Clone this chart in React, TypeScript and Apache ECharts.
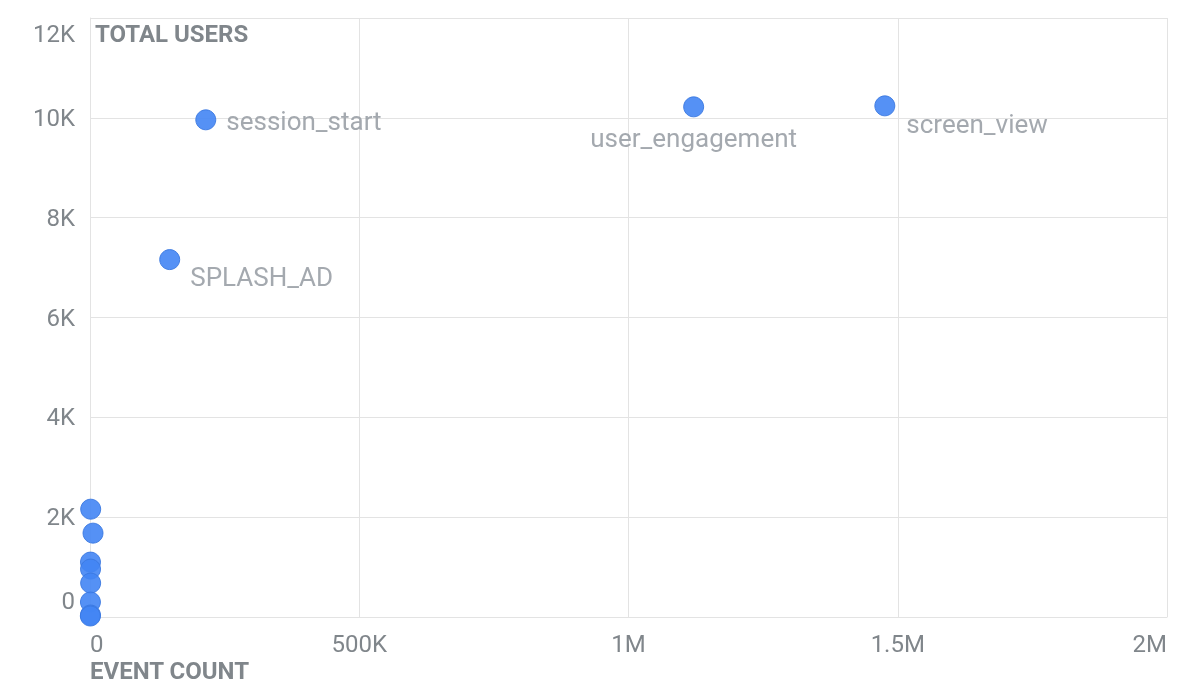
import React, { useEffect, useRef } from "react";
import * as echarts from "echarts";

const eventNames = [
  "screen_view",
  "user_engagement",
  "session_start",
  "SPLASH_AD",
  "",
  "",
  "",
  "",
  "",
  "",
  "",
  "",
];
const eventCounts = [1476000, 1121000, 215000, 148000, 1300, 5600, 900, 1000, 1200, 800, 900, 600];
const totalUsers = [10240, 10220, 9960, 7160, 2160, 1680, 1100, 960, 680, 300, 40, 20];

const xTicks = [0, 500000, 1000000, 1500000, 2000000];
const yTicks = [0, 2000, 4000, 6000, 8000, 10000, 12000];

const labelSpecs: Record<string, any> = {
  session_start: { position: "right", distance: 10, offset: [0, 1] },
  SPLASH_AD: { position: "right", distance: 10, offset: [0, 17] },
  user_engagement: { position: "bottom", distance: 8, offset: [0, 0] },
  screen_view: { position: "right", distance: 11, offset: [0, 18] },
};

function fmt(v: number): string {
  if (v === 0) return "0";
  if (v >= 1000000) return v / 1000000 + "M";
  if (v >= 1000) return v / 1000 + "K";
  return String(v);
}

export default function App() {
  const ref = useRef<HTMLDivElement>(null);
  useEffect(() => {
    if (!ref.current) return;
    const chart = echarts.init(ref.current, undefined, { renderer: "svg" });
    const grid = "#e3e3e3";
    const axisText = "#80868b";
    const data = eventCounts.map((x, i) => {
      const name = eventNames[i];
      const spec = labelSpecs[name];
      return {
        name,
        value: [x, totalUsers[i]],
        label: spec
          ? {
              show: true,
              formatter: name,
              position: spec.position,
              distance: spec.distance,
              offset: spec.offset,
              color: "#9aa0a6",
              fontSize: 26,
              fontFamily: "Roboto",
            }
          : { show: false },
      };
    });
    chart.setOption({
      animation: false,
      grid: { left: 90, right: 16, top: 18, bottom: 79, containLabel: false },
      xAxis: {
        type: "value",
        min: xTicks[0],
        max: xTicks[xTicks.length - 1],
        interval: xTicks[1] - xTicks[0],
        name: "EVENT COUNT",
        nameLocation: "start",
        nameGap: 0,
        nameTextStyle: {
          align: "left",
          verticalAlign: "top",
          padding: [42, 0, 0, 0],
          color: axisText,
          fontWeight: "bold",
          fontSize: 24,
          fontFamily: "Roboto",
        },
        axisLine: { show: true, lineStyle: { color: grid } },
        axisTick: { show: false },
        splitLine: { show: true, lineStyle: { color: grid } },
        axisLabel: {
          color: axisText,
          fontSize: 24,
          fontFamily: "Roboto",
          margin: 15,
          formatter: fmt,
          alignMinLabel: "left",
          alignMaxLabel: "right",
        },
      },
      yAxis: {
        type: "value",
        min: yTicks[0],
        max: yTicks[yTicks.length - 1],
        interval: yTicks[1] - yTicks[0],
        name: "TOTAL USERS",
        nameLocation: "end",
        nameGap: -16,
        nameTextStyle: {
          align: "left",
          verticalAlign: "middle",
          padding: [0, 0, 0, 5],
          color: axisText,
          fontWeight: "bold",
          fontSize: 24,
          fontFamily: "Roboto",
        },
        axisLine: { show: true, lineStyle: { color: grid } },
        axisTick: { show: false },
        splitLine: { show: true, lineStyle: { color: grid } },
        axisLabel: {
          color: axisText,
          fontSize: 24,
          lineHeight: 32,
          fontFamily: "Roboto",
          margin: 15,
          formatter: fmt,
          verticalAlignMinLabel: "bottom",
          verticalAlignMaxLabel: "top",
        },
      },
      series: [
        {
          type: "scatter",
          symbolSize: 20,
          data,
          itemStyle: {
            color: "#4285f4",
            opacity: 0.9,
            borderColor: "#3a78e0",
            borderWidth: 1,
          },
          emphasis: { disabled: true },
        },
      ],
    });
    return () => chart.dispose();
  }, []);
  return (
    <div
      ref={ref}
      style={{ position: "fixed", left: 0, top: 0, width: 1183, height: 696 }}
    />
  );
}
